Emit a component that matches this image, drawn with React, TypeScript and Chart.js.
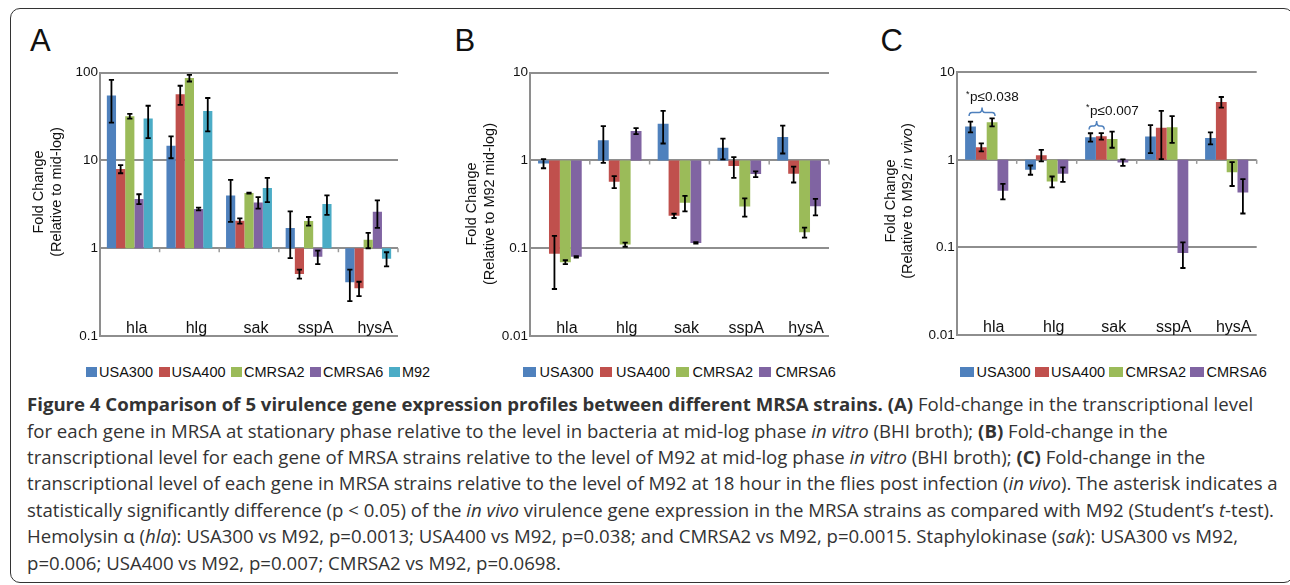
import React, { useEffect, useRef } from "react";
import { Chart, registerables } from "chart.js";

Chart.register(...registerables);

const FONT = '"Liberation Sans", Arial, Helvetica, sans-serif';
const CAPTION_FONT = '"Open Sans", "Noto Sans", sans-serif';

// ---------- data ----------
const genes = ["hla", "hlg", "sak", "sspA", "hysA"];
const strainNames = ["USA300", "USA400", "CMRSA2", "CMRSA6", "M92"];
const strainColors = ["#4F81BD", "#C0504D", "#9BBB59", "#8064A2", "#4BACC6"];

const ticksA = [0.1, 1, 10, 100];
const ticksBC = [0.01, 0.1, 1, 10];

// Panel A: stationary phase relative to mid-log
const aUSA300 = [55, 14.7, 4.0, 1.7, 0.41];
const aUSA400 = [8.0, 57, 2.05, 0.51, 0.35];
const aCMRSA2 = [32, 87, 4.25, 2.04, 1.25];
const aCMRSA6 = [3.65, 2.8, 3.33, 0.8, 2.61];
const aM92 = [30, 36.5, 4.85, 3.2, 0.76];
const aErrUSA300 = [28, 4.1, 2.0, 0.93, 0.16];
const aErrUSA400 = [0.85, 14, 0.14, 0.06, 0.065];
const aErrCMRSA2 = [2, 7.6, 0.05, 0.23, 0.25];
const aErrCMRSA6 = [0.47, 0.1, 0.5, 0.14, 0.9];
const aErrM92 = [12, 15, 1.5, 0.8, 0.14];

// Panel B: relative to M92 mid-log
const bUSA300 = [0.925, 1.7, 2.62, 1.4, 1.85];
const bUSA400 = [0.0863, 0.573, 0.234, 0.863, 0.706];
const bCMRSA2 = [0.0694, 0.11, 0.329, 0.299, 0.152];
const bCMRSA6 = [0.0798, 2.17, 0.115, 0.7, 0.301];
const bErrUSA300 = [0.11, 0.76, 1.06, 0.37, 0.65];
const bErrUSA400 = [0.052, 0.09, 0.013, 0.23, 0.145];
const bErrCMRSA2 = [0.0036, 0.006, 0.066, 0.07, 0.02];
const bErrCMRSA6 = [0.0015, 0.17, 0.002, 0.053, 0.064];

// Panel C: relative to M92 in vivo
const cUSA300 = [2.4, 0.769, 1.814, 1.845, 1.78];
const cUSA400 = [1.395, 1.13, 1.862, 2.32, 4.59];
const cCMRSA2 = [2.69, 0.566, 1.736, 2.36, 0.723];
const cCMRSA6 = [0.443, 0.692, 0.932, 0.0862, 0.424];
const cErrUSA300 = [0.34, 0.093, 0.2, 0.65, 0.28];
const cErrUSA400 = [0.145, 0.17, 0.16, 1.3, 0.63];
const cErrCMRSA2 = [0.28, 0.08, 0.36, 0.8, 0.22];
const cErrCMRSA6 = [0.09, 0.13, 0.08, 0.028, 0.18];

const cAnnotations = [
  { gene: "hla", from: 0, to: 2, level: 3.47, label: "p≤0.038" },
  { gene: "sak", from: 0, to: 1, level: 2.44, label: "p≤0.007" },
];

// ---------- types ----------
type Seg = { text: string; italic?: boolean };
type Ann = { gene: string; from: number; to: number; level: number; label: string };
type PanelCfg = {
  left: number;
  top: number;
  width: number;
  height: number;
  axisWidth: number;
  padTop: number;
  padRight: number;
  padBottom: number;
  min: number;
  max: number;
  ticks: number[];
  series: number[][];
  errors: number[][];
  catPct: number;
  titleLines: Seg[][];
  titleXs: number[];
  titleCY: number;
  annotations?: Ann[];
};

const panelA: PanelCfg = {
  left: 20, top: 50, width: 400, height: 300,
  axisWidth: 80, padTop: 22.7, padRight: 22, padBottom: 14,
  min: 0.1, max: 100, ticks: ticksA,
  series: [aUSA300, aUSA400, aCMRSA2, aCMRSA6, aM92],
  errors: [aErrUSA300, aErrUSA400, aErrCMRSA2, aErrCMRSA6, aErrM92],
  catPct: 0.77,
  titleLines: [[{ text: "Fold Change" }], [{ text: "(Relative to mid-log)" }]],
  titleXs: [39, 57], titleCY: 192,
};

const panelB: PanelCfg = {
  left: 450, top: 50, width: 400, height: 300,
  axisWidth: 80, padTop: 22.7, padRight: 21, padBottom: 14,
  min: 0.01, max: 10, ticks: ticksBC,
  series: [bUSA300, bUSA400, bCMRSA2, bCMRSA6],
  errors: [bErrUSA300, bErrUSA400, bErrCMRSA2, bErrCMRSA6],
  catPct: 0.73,
  titleLines: [[{ text: "Fold Change" }], [{ text: "(Relative to M92 mid-log)" }]],
  titleXs: [472, 490], titleCY: 204,
};

const panelC: PanelCfg = {
  left: 875, top: 50, width: 400, height: 300,
  axisWidth: 81.7, padTop: 22.3, padRight: 18.3, padBottom: 15,
  min: 0.01, max: 10, ticks: ticksBC,
  series: [cUSA300, cUSA400, cCMRSA2, cCMRSA6],
  errors: [cErrUSA300, cErrUSA400, cErrCMRSA2, cErrCMRSA6],
  catPct: 0.72,
  titleLines: [
    [{ text: "Fold Change" }],
    [{ text: "(Relative to M92 " }, { text: "in vivo", italic: true }, { text: ")" }],
  ],
  titleXs: [891, 908], titleCY: 201,
  annotations: cAnnotations,
};

const fmtTick = (v: number) => String(v);

function makeDecor(cfg: PanelCfg) {
  return {
    id: "panelDecor",
    afterDatasetsDraw(chart: any) {
      const ctx = chart.ctx;
      const y = chart.scales.y;
      ctx.save();
      ctx.strokeStyle = "#000";
      ctx.lineWidth = 1.8;
      chart.data.datasets.forEach((_ds: any, di: number) => {
        const meta = chart.getDatasetMeta(di);
        meta.data.forEach((bar: any, i: number) => {
          const v = cfg.series[di][i];
          const e = cfg.errors[di][i];
          const yT = y.getPixelForValue(v + e);
          const yB = y.getPixelForValue(Math.max(v - e, cfg.min));
          const x = bar.x;
          ctx.beginPath();
          ctx.moveTo(x, yT);
          ctx.lineTo(x, yB);
          ctx.moveTo(x - 2.6, yT);
          ctx.lineTo(x + 2.6, yT);
          ctx.moveTo(x - 2.6, yB);
          ctx.lineTo(x + 2.6, yB);
          ctx.stroke();
        });
      });
      ctx.restore();
    },
    afterDraw(chart: any) {
      const ctx = chart.ctx;
      const area = chart.chartArea;
      const y = chart.scales.y;
      const x = chart.scales.x;
      ctx.save();
      // category boundary ticks under the baseline at 1
      const y1 = y.getPixelForValue(1);
      const catW = (area.right - area.left) / genes.length;
      ctx.strokeStyle = "#9a9a9a";
      ctx.lineWidth = 1.5;
      for (let k = 1; k <= genes.length; k++) {
        const xx = area.left + k * catW;
        ctx.beginPath();
        ctx.moveTo(xx, y1);
        ctx.lineTo(xx, y1 + 4);
        ctx.stroke();
      }
      // category labels
      ctx.fillStyle = "#111";
      ctx.font = `16px ${FONT}`;
      ctx.textAlign = "center";
      ctx.textBaseline = "alphabetic";
      genes.forEach((g, i) => {
        ctx.fillText(g, x.getPixelForValue(i) + 7, area.bottom - 3);
      });
      // rotated y title
      cfg.titleLines.forEach((line, li) => {
        const cx = cfg.titleXs[li] - cfg.left;
        const cy = cfg.titleCY - cfg.top;
        ctx.save();
        ctx.translate(cx, cy);
        ctx.rotate(-Math.PI / 2);
        ctx.textBaseline = "middle";
        ctx.textAlign = "left";
        let total = 0;
        const widths = line.map((s) => {
          ctx.font = `${s.italic ? "italic " : ""}14.5px ${FONT}`;
          const w = ctx.measureText(s.text).width;
          total += w;
          return w;
        });
        let px = -total / 2;
        line.forEach((s, si) => {
          ctx.font = `${s.italic ? "italic " : ""}14.5px ${FONT}`;
          ctx.fillText(s.text, px, 0);
          px += widths[si];
        });
        ctx.restore();
      });
      // significance brackets
      (cfg.annotations || []).forEach((a) => {
        const gi = genes.indexOf(a.gene);
        const b1 = chart.getDatasetMeta(a.from).data[gi];
        const b2 = chart.getDatasetMeta(a.to).data[gi];
        const x1 = b1.x - b1.width / 2 + 4;
        const x2 = b2.x + b2.width / 2 - 2.5;
        const xm = (x1 + x2) / 2;
        const yb = y.getPixelForValue(a.level);
        ctx.strokeStyle = "#4F81BD";
        ctx.lineWidth = 1.5;
        ctx.beginPath();
        ctx.moveTo(x1, yb + 3.5);
        ctx.quadraticCurveTo(x1, yb, x1 + 3, yb);
        ctx.lineTo(xm - 3, yb);
        ctx.quadraticCurveTo(xm, yb, xm, yb - 5);
        ctx.quadraticCurveTo(xm, yb, xm + 3, yb);
        ctx.lineTo(x2 - 3, yb);
        ctx.quadraticCurveTo(x2, yb, x2, yb + 3.5);
        ctx.stroke();
        const tx = x1 - 3;
        const ty = yb - 15;
        ctx.fillStyle = "#111";
        ctx.textAlign = "left";
        ctx.textBaseline = "middle";
        ctx.font = `9px ${FONT}`;
        ctx.fillText("*", tx, ty - 3);
        const w = ctx.measureText("*").width;
        ctx.font = `13.5px ${FONT}`;
        ctx.fillText(a.label, tx + w + 0.5, ty);
      });
      ctx.restore();
    },
  };
}

function Panel({ cfg }: { cfg: PanelCfg }) {
  const ref = useRef<HTMLCanvasElement | null>(null);
  useEffect(() => {
    if (!ref.current) return;
    const chart = new Chart(ref.current, {
      type: "bar",
      data: {
        labels: genes,
        datasets: cfg.series.map((vals, i) => ({
          label: strainNames[i],
          data: vals.map((v) => [1, v]),
          backgroundColor: strainColors[i],
          borderWidth: 0,
          categoryPercentage: cfg.catPct,
          barPercentage: 1,
        })) as any,
      },
      options: {
        responsive: false,
        animation: false,
        devicePixelRatio: 1,
        layout: {
          padding: { top: cfg.padTop, right: cfg.padRight, bottom: cfg.padBottom, left: 0 },
        },
        plugins: { legend: { display: false }, tooltip: { enabled: false } },
        scales: {
          x: { type: "category", display: false, offset: true },
          y: {
            type: "logarithmic",
            min: cfg.min,
            max: cfg.max,
            afterBuildTicks: (s: any) => {
              s.ticks = cfg.ticks.map((value) => ({ value }));
            },
            afterFit: (s: any) => {
              s.width = cfg.axisWidth;
            },
            ticks: {
              callback: (v: any) => fmtTick(Number(v)),
              color: "#111",
              font: { family: FONT, size: 13.5 },
              padding: 2,
            },
            grid: { color: "#8e8e8e", lineWidth: 2, drawTicks: false },
            border: { color: "#8e8e8e", width: 2 },
          },
        },
      } as any,
      plugins: [makeDecor(cfg)],
    });
    return () => chart.destroy();
  }, [cfg]);
  return (
    <canvas
      ref={ref}
      width={cfg.width}
      height={cfg.height}
      style={{ position: "absolute", left: cfg.left, top: cfg.top, width: cfg.width, height: cfg.height }}
    />
  );
}

function Legend({
  left, count, boxW, boxH, boxGap, itemGap,
}: { left: number; count: number; boxW: number; boxH: number; boxGap: number; itemGap: number }) {
  return (
    <div
      style={{
        position: "absolute", left, top: 363.7, height: 16, display: "flex", alignItems: "center",
        fontFamily: FONT, fontSize: 14.5, color: "#111", whiteSpace: "nowrap", lineHeight: "16px",
      }}
    >
      {strainNames.slice(0, count).map((n, i) => (
        <div key={n} style={{ display: "flex", alignItems: "center", marginRight: itemGap }}>
          <span style={{ display: "inline-block", width: boxW, height: boxH, background: strainColors[i], marginRight: boxGap }} />
          <span>{n}</span>
        </div>
      ))}
    </div>
  );
}

const letterStyle: React.CSSProperties = {
  position: "absolute", top: 25.3, fontFamily: FONT, fontSize: 31, lineHeight: "31px", color: "#111",
};

const lineStyle: React.CSSProperties = { whiteSpace: "nowrap", height: 26.4 };

export default function App() {
  return (
    <div
      style={{
        position: "fixed", left: 0, top: 0, width: 1290, height: 585, background: "#fff", overflow: "hidden",
      }}
    >
      <div
        style={{
          position: "absolute", left: 10, top: 8, width: 1284, height: 575,
          border: "1.5px solid #333", borderRadius: 10, boxSizing: "border-box",
        }}
      />
      <div style={{ ...letterStyle, left: 30 }}>A</div>
      <div style={{ ...letterStyle, left: 454.5 }}>B</div>
      <div style={{ ...letterStyle, left: 880.5 }}>C</div>
      <Panel cfg={panelA} />
      <Panel cfg={panelB} />
      <Panel cfg={panelC} />
      <Legend left={86} count={5} boxW={11} boxH={10} boxGap={2} itemGap={5.5} />
      <Legend left={523} count={4} boxW={12.5} boxH={10} boxGap={4} itemGap={6} />
      <Legend left={960} count={4} boxW={14} boxH={10} boxGap={2.5} itemGap={4} />
      <div
        style={{
          position: "absolute", left: 27, top: 391.3, fontFamily: CAPTION_FONT, fontSize: 18.6,
          lineHeight: "26.4px", color: "#333",
        }}
      >
        <div style={lineStyle}>
          <b>Figure 4 Comparison of 5 virulence gene expression profiles between different MRSA strains.</b>{" "}
          <b>(A)</b> Fold-change in the transcriptional level
        </div>
        <div style={lineStyle}>
          for each gene in MRSA at stationary phase relative to the level in bacteria at mid-log phase <i>in vitro</i> (BHI broth); <b>(B)</b> Fold-change in the
        </div>
        <div style={lineStyle}>
          transcriptional level for each gene of MRSA strains relative to the level of M92 at mid-log phase <i>in vitro</i> (BHI broth); <b>(C)</b> Fold-change in the
        </div>
        <div style={lineStyle}>
          transcriptional level of each gene in MRSA strains relative to the level of M92 at 18 hour in the flies post infection (<i>in vivo</i>). The asterisk indicates a
        </div>
        <div style={lineStyle}>
          statistically significantly difference (p &lt; 0.05) of the <i>in vivo</i> virulence gene expression in the MRSA strains as compared with M92 (Student’s <i>t</i>-test).
        </div>
        <div style={lineStyle}>
          Hemolysin α (<i>hla</i>): USA300 vs M92, p=0.0013; USA400 vs M92, p=0.038; and CMRSA2 vs M92, p=0.0015. Staphylokinase (<i>sak</i>): USA300 vs M92,
        </div>
        <div style={lineStyle}>p=0.006; USA400 vs M92, p=0.007; CMRSA2 vs M92, p=0.0698.</div>
      </div>
    </div>
  );
}
